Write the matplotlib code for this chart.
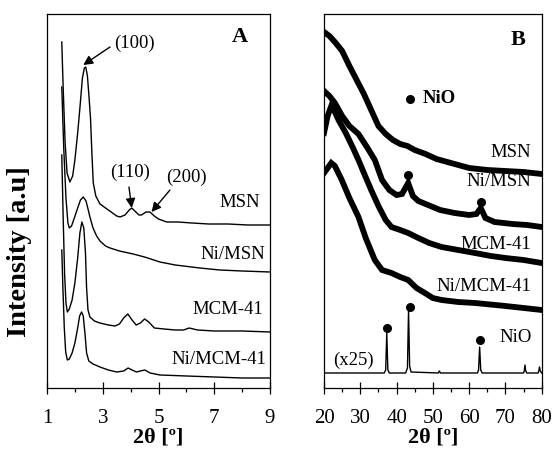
import numpy as np
import matplotlib
matplotlib.use("Agg")
import matplotlib.pyplot as plt
from matplotlib.ticker import MultipleLocator, FixedLocator

plt.rcParams['font.family'] = ['Liberation Serif', 'DejaVu Serif']

# ---- panel A: low angle XRD (x = 2theta, y = arbitrary stacked intensity)
msn_x = [1.53, 1.58, 1.65, 1.72, 1.82, 1.92, 2.00, 2.10, 2.18, 2.27, 2.34, 2.39, 2.45, 2.51, 2.56, 2.61,
         2.66, 2.75, 2.90, 3.10, 3.30, 3.50, 3.62, 3.80, 3.95, 4.04, 4.15, 4.30, 4.39, 4.55, 4.69, 4.85,
         5.00, 5.29, 5.70, 6.20, 6.80, 7.50, 8.20, 9.00]
msn_y = [346, 300, 245, 215, 206, 212, 228, 255, 280, 310, 320, 321, 312, 290, 270, 235,
         205, 192, 184, 180, 176, 172, 171, 173, 178, 180, 177, 173, 173, 176, 176, 172,
         169, 166, 166, 165, 164, 164, 163, 163]

nimsn_x = [1.53, 1.60, 1.68, 1.75, 1.80, 1.88, 1.98, 2.10, 2.20, 2.30, 2.40, 2.48, 2.54, 2.65, 2.78,
           2.90, 3.10, 3.26, 3.60, 4.09, 4.50, 5.05, 5.60, 6.48, 7.20, 8.00, 9.00]
nimsn_y = [301, 240, 190, 165, 160, 162, 170, 180, 188, 191, 187, 178, 171, 160, 152,
           147, 142, 140, 137, 134, 131, 126, 123, 120, 118, 117, 116]

mcm_x = [1.53, 1.58, 1.63, 1.68, 1.73, 1.80, 1.90, 2.00, 2.10, 2.18, 2.25, 2.32, 2.38, 2.42, 2.47,
         2.54, 2.70, 2.90, 3.20, 3.44, 3.60, 3.75, 3.90, 4.05, 4.20, 4.35, 4.50, 4.65, 4.85, 5.20,
         5.60, 5.90, 6.10, 6.40, 7.00, 8.00, 9.00]
mcm_y = [233, 170, 115, 85, 76, 79, 88, 105, 130, 155, 166, 160, 135, 100, 78,
         71, 67, 65, 63, 62, 64, 70, 74, 68, 63, 65, 69, 66, 60, 59,
         58, 58, 60, 58, 57, 57, 56]

nimcm_x = [1.53, 1.57, 1.62, 1.67, 1.73, 1.80, 1.90, 2.00, 2.10, 2.17, 2.24, 2.30, 2.36, 2.42, 2.50,
           2.65, 2.90, 3.20, 3.50, 3.75, 3.91, 4.05, 4.21, 4.35, 4.51, 4.70, 5.05, 6.00, 7.00, 8.00, 9.00]
nimcm_y = [138, 100, 60, 36, 28, 29, 35, 45, 60, 72, 76, 72, 55, 35, 27,
           24, 21, 18, 16, 17, 20, 18, 16, 17, 18, 15, 13, 12, 11, 10, 10]

a_major = [1, 3, 5, 7, 9]
a_minor = [2, 4, 6, 8]

# ---- panel B: wide angle XRD
b_msn_x = [20, 21.5, 23, 25, 27, 29, 31, 33, 35, 37, 39, 41, 43, 45, 48, 51, 55, 60, 65, 70, 75, 80]
b_msn_y = [356, 352, 346, 337, 322, 308, 294, 278, 262, 254, 248, 244, 242, 238, 234, 229, 225, 220, 218, 217, 216, 214]

b_nimsn_x = [20, 21.5, 23, 25, 27, 29.5, 32, 34, 36, 38, 40, 41.5, 43.2, 44.5, 46, 48, 52, 56, 60, 62,
             63.2, 64.5, 67, 72, 76, 80]
b_nimsn_y = [297, 292, 285, 272, 262, 254, 240, 228, 208, 198, 193, 194, 205, 192, 187, 184, 178, 175, 173, 174,
             180, 170, 166, 164, 163, 161]

b_mcm_x = [20, 21, 22, 23, 24, 26, 28, 29.5, 31, 33, 35, 37, 38.6, 41, 43.2, 46, 49, 52.4, 57, 61.6, 66, 70, 75, 80]
b_mcm_y = [255, 272, 282, 276, 268, 255, 240, 228, 215, 198, 182, 168, 161, 158, 155, 150, 145, 141, 138, 135, 132, 130, 128, 125]

b_nimcm_x = [20, 21, 22, 23, 24.9, 27, 29.5, 31.5, 34, 36, 38.6, 41, 43.2, 45.5, 47.8, 50, 52.4, 57, 61.6, 70, 80]
b_nimcm_y = [215, 220, 225, 222, 208, 190, 171, 150, 128, 118, 115, 111, 108, 100, 95, 90, 88, 86, 85, 82, 78]

nio_x = [20, 30, 36.6, 37.0, 37.3, 37.6, 38.0, 42.5, 43.0, 43.3, 43.6, 44.0, 51.5, 51.8, 52.1, 62.3, 62.6, 62.9,
         63.2, 63.6, 75.0, 75.2, 75.4, 75.6, 75.9, 79.0, 79.2, 79.4, 79.6, 80]
nio_y = [15, 15, 15, 18, 55, 18, 15, 15, 20, 78, 22, 16, 15, 17, 15, 15, 18, 41,
         18, 15, 15, 17, 23, 17, 15, 15, 17, 21, 17, 15]

nio_dot_x = [43.2, 63.4, 37.4, 43.6, 63.0]
nio_dot_y = [213, 186, 60, 81, 48]

fig = plt.figure(figsize=(5.55, 4.53), dpi=100)
axA = fig.add_axes([0.0847, 0.1435, 0.4018, 0.8256])
axB = fig.add_axes([0.5838, 0.1435, 0.3922, 0.8256])

for ax in (axA, axB):
    ax.set_ylim(0, 374)
    ax.set_yticks([])
    for s in ax.spines.values():
        s.set_linewidth(0.9)
    ax.tick_params(axis='x', which='major', direction='inout', length=8, width=0.9, labelsize=15, pad=11)
    ax.tick_params(axis='x', which='minor', direction='out', length=3, width=0.9)
    ax.set_xlabel('2θ [º]', fontsize=16, fontweight='bold', labelpad=0)

# panel A
for x, y in [(msn_x, msn_y), (nimsn_x, nimsn_y), (mcm_x, mcm_y), (nimcm_x, nimcm_y)]:
    axA.plot(x, y, color='black', lw=1.0)
axA.set_xlim(1, 9)
axA.xaxis.set_major_locator(FixedLocator(a_major))
axA.xaxis.set_minor_locator(FixedLocator(a_minor))
axA.set_ylabel('Intensity [a.u]', fontsize=20.5, fontweight='bold')
axA.yaxis.set_label_coords(-0.066, 0.364)

lab = dict(fontsize=13.5, ha='right', va='center')
axA.text(8.63, 185, 'MSN', **lab)
axA.text(8.81, 133, 'Ni/MSN', **lab)
axA.text(8.74, 78, 'MCM-41', **lab)
axA.text(8.87, 28, 'Ni/MCM-41', **lab)
axA.text(7.92, 351, 'A', fontsize=16, fontweight='bold', ha='center', va='center')

arr = dict(arrowstyle='-|>', color='black', lw=1.0, mutation_scale=14, shrinkA=0, shrinkB=0)
axA.annotate('', xy=(2.30, 323), xytext=(3.26, 341), arrowprops=arr)
axA.text(4.15, 345, '(100)', fontsize=13.5, ha='center', va='center')
axA.annotate('', xy=(4.04, 180), xytext=(3.94, 201), arrowprops=arr)
axA.text(3.97, 216, '(110)', fontsize=13.5, ha='center', va='center')
axA.annotate('', xy=(4.75, 176), xytext=(5.41, 198), arrowprops=arr)
axA.text(6.0, 211, '(200)', fontsize=13.5, ha='center', va='center')

# panel B
for x, y in [(b_msn_x, b_msn_y), (b_nimsn_x, b_nimsn_y), (b_mcm_x, b_mcm_y), (b_nimcm_x, b_nimcm_y)]:
    axB.plot(x, y, color='black', lw=4.2, solid_joinstyle='miter')
axB.plot(nio_x, nio_y, color='black', lw=1.0)
axB.plot(nio_dot_x, nio_dot_y, 'o', color='black', ms=5.5)
axB.plot([43.7], [289], 'o', color='black', ms=5.5)
axB.text(47.3, 289, 'NiO', fontsize=13.5, fontweight='bold', ha='left', va='center')
axB.set_xlim(20, 80)
axB.xaxis.set_major_locator(MultipleLocator(10))
axB.xaxis.set_minor_locator(MultipleLocator(5))

axB.text(77.2, 235, 'MSN', **lab)
axB.text(77.2, 206, 'Ni/MSN', **lab)
axB.text(77.2, 143, 'MCM-41', **lab)
axB.text(77.2, 101, 'Ni/MCM-41', **lab)
axB.text(77.2, 50, 'NiO', **lab)
axB.text(28.1, 28, '(x25)', fontsize=13.5, ha='center', va='center')
axB.text(73.6, 348, 'B', fontsize=16, fontweight='bold', ha='center', va='center')

fig.savefig('out.png', dpi=100)
